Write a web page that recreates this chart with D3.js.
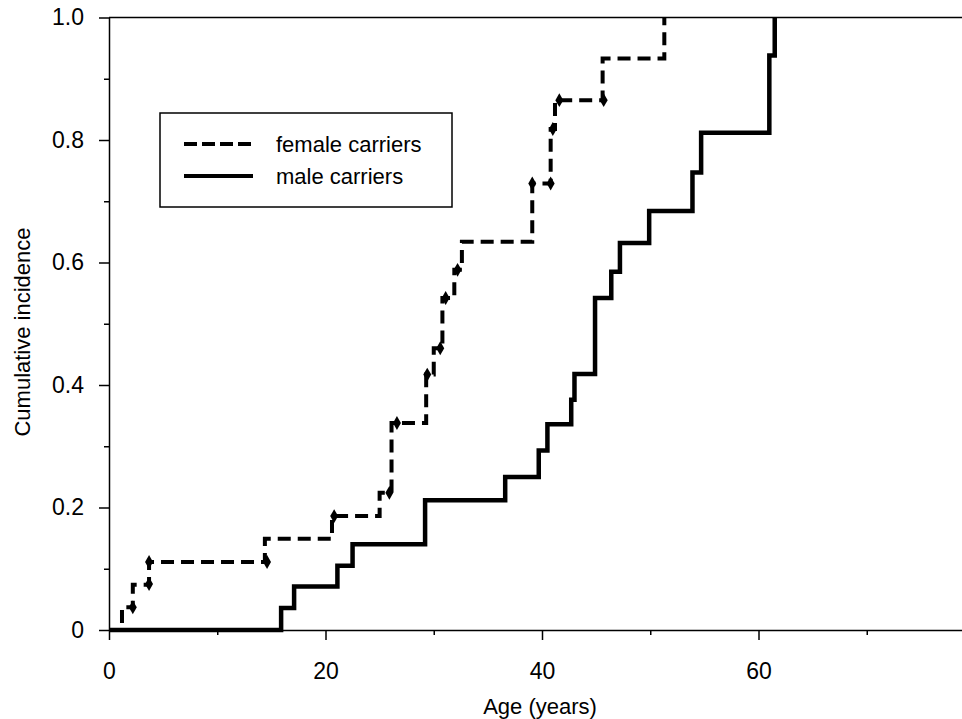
<!DOCTYPE html>
<html>
<head>
    <title>Cumulative incidence</title>
    <script src="https://d3js.org/d3.v7.min.js"></script>
    <style>
        body { margin: 0; background: #fff; }
        text { font-family: "Liberation Sans", Arial, sans-serif; fill: #000; }
    </style>
</head>
<body>
    <div id="chart"></div>

    <script>
        // Data (age in years, cumulative incidence)
        const femaleAge = [0, 1.2, 2.2, 3.7, 14.4, 20.6, 25.0, 26.1, 29.3, 30.0, 30.8, 31.9, 32.6, 39.1, 40.8, 41.2, 45.6, 51.3];
        const femaleInc = [0, 0.037, 0.074, 0.111, 0.149, 0.186, 0.224, 0.338, 0.417, 0.46, 0.542, 0.588, 0.634, 0.729, 0.818, 0.865, 0.933, 1.0];

        // censoring marks on the female curve
        const censorAge = [2.2, 3.7, 3.7, 14.6, 20.8, 25.9, 26.6, 29.4, 30.6, 31.1, 32.2, 39.1, 40.8, 41.0, 41.6, 45.7];
        const censorInc = [0.037, 0.075, 0.111, 0.111, 0.186, 0.224, 0.338, 0.417, 0.46, 0.542, 0.588, 0.729, 0.729, 0.818, 0.865, 0.865];

        const maleAge = [0, 15.9, 17.1, 21.1, 22.5, 29.2, 36.6, 39.7, 40.5, 42.7, 43.0, 44.9, 46.4, 47.2, 49.9, 53.9, 54.7, 61.0, 61.5];
        const maleInc = [0, 0.036, 0.071, 0.105, 0.14, 0.212, 0.25, 0.293, 0.336, 0.376, 0.418, 0.542, 0.585, 0.632, 0.684, 0.747, 0.812, 0.938, 1.0];

        const xTicks = [0, 20, 40, 60];
        const xMinor = [10, 30, 50, 70];
        const yTicks = [0, 0.2, 0.4, 0.6, 0.8, 1.0];
        const yMinor = [0.1, 0.3, 0.5, 0.7, 0.9];
        const legendLabels = ["female carriers", "male carriers"];

        const width = 962;
        const height = 719;

        // x runs past the right edge of the picture, like in the original
        const x = d3.scaleLinear().domain([0, 80]).range([109, 975]);
        const y = d3.scaleLinear().domain([0, 1]).range([630, 17.5]);

        const svg = d3.select("#chart")
            .append("svg")
            .attr("width", width)
            .attr("height", height);

        // top frame line
        svg.append("line")
            .attr("x1", x(0)).attr("x2", width)
            .attr("y1", y(1)).attr("y2", y(1))
            .attr("stroke", "#000").attr("stroke-width", 1.5);

        // axes
        const fmt = d => d === 0 ? "0" : d3.format(".1f")(d);

        svg.append("g")
            .attr("transform", `translate(${x(0)},0)`)
            .call(d3.axisLeft(y).tickValues(yTicks).tickFormat(fmt).tickSize(10).tickSizeOuter(0).tickPadding(15));
        svg.append("g")
            .attr("transform", `translate(${x(0)},0)`)
            .call(d3.axisLeft(y).tickValues(yMinor).tickFormat("").tickSize(5))
            .select(".domain").remove();

        svg.append("g")
            .attr("transform", `translate(0,${y(0)})`)
            .call(d3.axisBottom(x).tickValues(xTicks).tickSize(10).tickSizeOuter(0).tickPadding(23));
        svg.append("g")
            .attr("transform", `translate(0,${y(0)})`)
            .call(d3.axisBottom(x).tickValues(xMinor).tickFormat("").tickSize(5))
            .select(".domain").remove();

        svg.selectAll(".domain, .tick line").attr("stroke", "#000").attr("stroke-width", 1.5);
        svg.selectAll(".tick text").attr("font-size", 23).attr("fill", "#000");

        // axis titles
        svg.append("text")
            .attr("x", 540).attr("y", 714)
            .attr("text-anchor", "middle")
            .attr("font-size", 22)
            .text("Age (years)");

        svg.append("text")
            .attr("transform", "translate(30,332) rotate(-90)")
            .attr("text-anchor", "middle")
            .attr("font-size", 22)
            .text("Cumulative incidence");

        // step lines
        const step = d3.line()
            .x(d => x(d[0]))
            .y(d => y(d[1]))
            .curve(d3.curveStepAfter);

        const male = maleAge.map((a, i) => [a, maleInc[i]]);
        const female = femaleAge.map((a, i) => [a, femaleInc[i]]);

        svg.append("path")
            .datum(male)
            .attr("d", step)
            .attr("fill", "none")
            .attr("stroke", "#000")
            .attr("stroke-width", 4.5);

        svg.append("path")
            .datum(female)
            .attr("d", step)
            .attr("fill", "none")
            .attr("stroke", "#000")
            .attr("stroke-width", 4)
            .attr("stroke-dasharray", "13,7");

        // censor marks
        svg.selectAll(".censor")
            .data(censorAge.map((a, i) => [a, censorInc[i]]))
            .join("path")
            .attr("class", "censor")
            .attr("transform", d => `translate(${x(d[0])},${y(d[1])})`)
            .attr("d", d3.symbol(d3.symbolDiamond, 55))
            .attr("fill", "#000");

        // legend
        const legend = svg.append("g");
        legend.append("rect")
            .attr("x", 160).attr("y", 113)
            .attr("width", 292).attr("height", 94)
            .attr("fill", "#fff")
            .attr("stroke", "#000").attr("stroke-width", 1.5);

        legendLabels.forEach((label, i) => {
            const ly = 144 + i * 32;
            legend.append("line")
                .attr("x1", 184).attr("x2", 253)
                .attr("y1", ly).attr("y2", ly)
                .attr("stroke", "#000")
                .attr("stroke-width", 4)
                .attr("stroke-dasharray", i === 0 ? "13,5" : null);
            legend.append("text")
                .attr("x", 276).attr("y", ly + 8)
                .attr("font-size", 22)
                .text(label);
        });
    </script>
</body>
</html>
